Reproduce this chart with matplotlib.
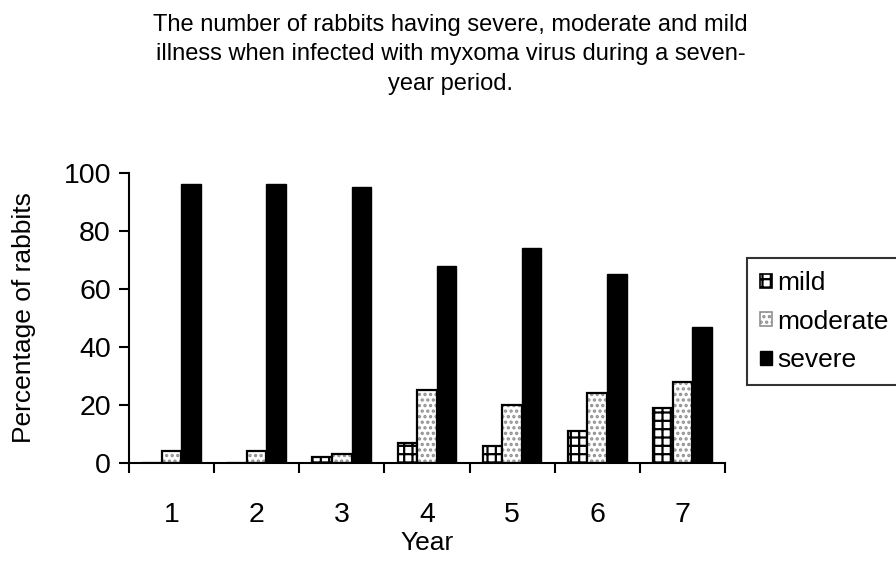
import numpy as np
import matplotlib.pyplot as plt
from matplotlib.patches import Patch

plt.rcParams['font.family'] = ['Liberation Sans', 'DejaVu Sans']
plt.rcParams['hatch.linewidth'] = 1.6

years = ['1', '2', '3', '4', '5', '6', '7']
mild = [0, 0, 2, 7, 6, 11, 19]
moderate = [4, 4, 3, 25, 20, 24, 28]
severe = [96, 96, 95, 68, 74, 65, 47]

fig = plt.figure(figsize=(8.96, 5.69), dpi=100)
ax = fig.add_axes([0.144, 0.1863, 0.665, 0.5102])

x = np.arange(len(years))
w = 0.23

# mild - grid hatch
ax.bar(x - w, mild, w, color='white', edgecolor='black', hatch='++', linewidth=1.6)
# moderate - grey dots, then black outline on top
ax.bar(x, moderate, w, color='white', edgecolor='#909090', hatch='...', linewidth=0)
ax.bar(x, moderate, w, color='none', edgecolor='black', linewidth=1.6)
# severe - solid black
ax.bar(x + w, severe, w, color='black', edgecolor='black', linewidth=1)

ax.set_xlim(-0.5, len(years) - 0.5)
ax.set_ylim(0, 100)
ax.set_yticks(range(0, 101, 20))
ax.set_xticks(x)
ax.set_xticklabels(years)
ax.set_xticks(np.arange(-0.5, len(years), 1), minor=True)
ax.tick_params(axis='x', which='major', length=0, pad=28, labelsize=20.5)
ax.tick_params(axis='x', which='minor', length=7, width=1.5, direction='out')
ax.tick_params(axis='y', length=7, width=1.5, direction='out', labelsize=20.5, pad=6)

for s in ['top', 'right']:
    ax.spines[s].set_visible(False)
for s in ['left', 'bottom']:
    ax.spines[s].set_linewidth(1.5)

ax.set_xlabel('Year', fontsize=19, labelpad=2)
ax.set_ylabel('Percentage of rabbits', fontsize=19, labelpad=20)

fig.text(0.503, 0.975,
         'The number of rabbits having severe, moderate and mild\n'
         'illness when infected with myxoma virus during a seven-\n'
         'year period.',
         ha='center', va='top', fontsize=17, linespacing=1.42)

handles = [
    Patch(facecolor='white', edgecolor='black', hatch='++', linewidth=1.2),
    Patch(facecolor='white', edgecolor='#909090', hatch='...', linewidth=1.2),
    Patch(facecolor='black', edgecolor='black'),
]
leg = fig.legend(handles, ['mild', 'moderate', 'severe'],
                 loc='upper left', bbox_to_anchor=(0.8337, 0.5466),
                 fontsize=19, frameon=True, fancybox=False,
                 handlelength=0.45, handleheight=0.45, handletextpad=0.2,
                 borderpad=0.5, labelspacing=0.55, borderaxespad=0)
leg.get_frame().set_edgecolor('black')
leg.get_frame().set_linewidth(1.5)

fig.savefig('out.png', dpi=100)
